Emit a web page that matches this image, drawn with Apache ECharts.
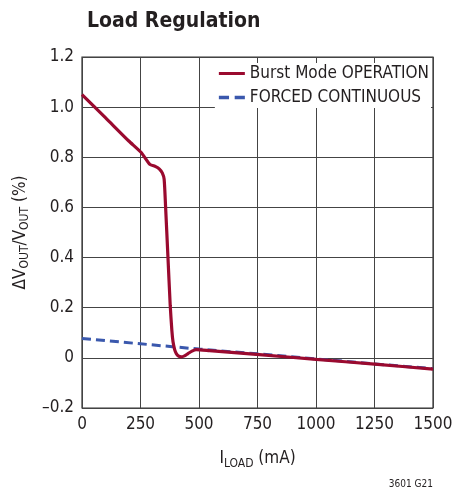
<!DOCTYPE html>
<html><head><meta charset="utf-8">
<script src="https://cdn.jsdelivr.net/npm/echarts@6/dist/echarts.min.js"></script>
<style>html,body{margin:0;padding:0;background:#fff}#c{width:456px;height:491px}</style>
</head><body><div id="c"></div>
<script>
const xTicks = [0, 250, 500, 750, 1000, 1250, 1500];
const yTicks = [-0.2, 0, 0.2, 0.4, 0.6, 0.8, 1.0, 1.2];
const burstX = [0, 100, 200, 253, 290, 315, 331, 343, 351, 357, 367, 377, 384, 389, 396, 403, 413, 424, 438, 453, 470, 488, 545, 758, 1000, 1250, 1500];
const burstY = [1.05, 0.958, 0.865, 0.819, 0.772, 0.763, 0.753, 0.738, 0.713, 0.607, 0.408, 0.209, 0.11, 0.064, 0.033, 0.017, 0.007, 0.004, 0.008, 0.017, 0.027, 0.033, 0.029, 0.013, -0.006, -0.025, -0.045];
const forcedX = [0, 250, 500, 750, 1000, 1250, 1500];
const forcedY = [0.077, 0.056, 0.035, 0.016, -0.004, -0.024, -0.043];

const FONT = '"Liberation Sans Narrow", "DejaVu Sans Condensed", "Liberation Sans", sans-serif';
const dash = s => String(s).replace('-', '\u2013');
const chart = echarts.init(document.getElementById('c'));
chart.setOption({
  animation: false,
  textStyle: { fontFamily: FONT },
  title: { text: 'Load Regulation', left: 82, top: 6,
    textStyle: { fontFamily: FONT, fontWeight: 'bold', fontSize: 21, color: '#231f20' } },
  grid: { left: 82, right: 23, top: 57, bottom: 83, show: true, borderColor: '#333', borderWidth: 1.2 },
  legend: {
    right: 25, top: 63, orient: 'vertical', itemWidth: 26, itemHeight: 4, itemGap: 7,
    backgroundColor: '#fff', padding: [2, 2, 2, 4],
    textStyle: { fontFamily: FONT, fontSize: 17, color: '#231f20' },
    data: [
      { name: 'Burst Mode OPERATION', icon: 'path://M0,0 L26,0 L26,3 L0,3 Z', itemStyle: { color: '#9a0a2f' } },
      { name: 'FORCED CONTINUOUS', icon: 'path://M0,0 L9,0 L9,3 L0,3 Z M14,0 L23,0 L23,3 L14,3 Z', itemStyle: { color: '#3a58ad' } }
    ]
  },
  xAxis: {
    type: 'value', min: 0, max: 1500, interval: 250,
    axisLine: { show: false }, axisTick: { show: false },
    splitLine: { lineStyle: { color: '#444', width: 1 } },
    axisLabel: { fontSize: 17, color: '#231f20', margin: 8, formatter: v => xTicks.includes(v) ? String(v) : '' },
    name: '{n|I}{s|LOAD}{n| (mA)}', nameLocation: 'middle', nameGap: 40,
    nameTextStyle: { rich: {
      n: { fontFamily: FONT, fontSize: 17, color: '#231f20', lineHeight: 22 },
      s: { fontFamily: FONT, fontSize: 12, color: '#231f20', verticalAlign: 'bottom', padding: [8, 0, 0, 0], lineHeight: 22 }
    } }
  },
  yAxis: {
    type: 'value', min: -0.2, max: 1.2, interval: 0.2,
    axisLine: { show: false }, axisTick: { show: false },
    splitLine: { lineStyle: { color: '#444', width: 1 } },
    axisLabel: { fontSize: 17, color: '#231f20', margin: 8,
      formatter: v => { const r = Math.round(v * 10) / 10; return r === 0 ? '0' : dash(r.toFixed(1)); } },
    name: '{n|\u0394V}{s|OUT}{n|/V}{s|OUT}{n| (%)}', nameLocation: 'middle', nameGap: 46, nameRotate: 90,
    nameTextStyle: { rich: {
      n: { fontFamily: FONT, fontSize: 17, color: '#231f20', lineHeight: 22 },
      s: { fontFamily: FONT, fontSize: 12, color: '#231f20', verticalAlign: 'bottom', padding: [8, 0, 0, 0], lineHeight: 22 }
    } }
  },
  series: [
    { name: 'FORCED CONTINUOUS', type: 'line', symbol: 'none', z: 2,
      data: forcedX.map((x, i) => [x, forcedY[i]]),
      lineStyle: { color: '#3a58ad', width: 3, type: [9, 5] }, itemStyle: { color: '#3a58ad' } },
    { name: 'Burst Mode OPERATION', type: 'line', symbol: 'none', smooth: 0.2, z: 3,
      data: burstX.map((x, i) => [x, burstY[i]]),
      lineStyle: { color: '#9a0a2f', width: 3.2 }, itemStyle: { color: '#9a0a2f' } }
  ],
  graphic: [
    { type: 'text', right: 23, top: 479, style: { text: '3601 G21', fontFamily: FONT, fontSize: 10, fill: '#231f20' } }
  ]
});
</script></body></html>
